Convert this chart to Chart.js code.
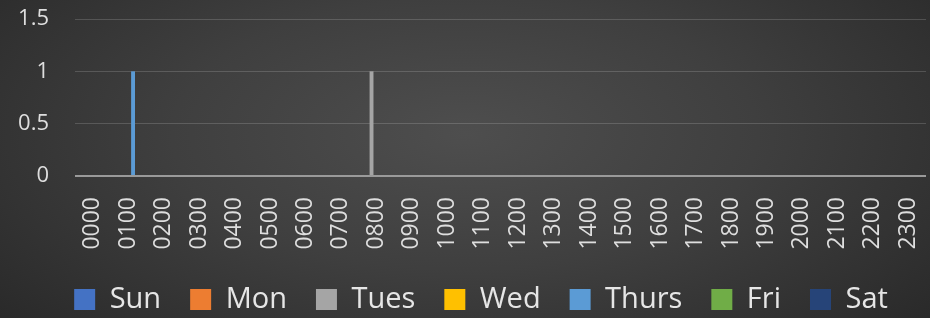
<!DOCTYPE html>
<html><head><meta charset="utf-8">
<script src="https://cdn.jsdelivr.net/npm/chart.js@4.4.0/dist/chart.umd.min.js"></script>
<style>
html,body{margin:0;padding:0;background:#2a2a2a;}
#wrap{position:relative;width:930px;height:318px;
background:radial-gradient(ellipse 70% 95% at 50% 42%, #4e4e4e 0%, #3f3f3f 45%, #272727 100%);}
</style></head><body><div id="wrap"><canvas id="c"></canvas></div>
<script>
const hours = ['0000','0100','0200','0300','0400','0500','0600','0700','0800','0900','1000','1100','1200','1300','1400','1500','1600','1700','1800','1900','2000','2100','2200','2300'];
const days = ['Sun','Mon','Tues','Wed','Thurs','Fri','Sat'];
const dayColors = ['#4472C4','#ED7D31','#A5A5A5','#FFC000','#5B9BD5','#70AD47','#264478'];
const sun   = [0,0,0,0,0,0,0,0,0,0,0,0,0,0,0,0,0,0,0,0,0,0,0,0];
const mon   = [0,0,0,0,0,0,0,0,0,0,0,0,0,0,0,0,0,0,0,0,0,0,0,0];
const tues  = [0,0,0,0,0,0,0,0,1,0,0,0,0,0,0,0,0,0,0,0,0,0,0,0];
const wed   = [0,0,0,0,0,0,0,0,0,0,0,0,0,0,0,0,0,0,0,0,0,0,0,0];
const thurs = [0,1,0,0,0,0,0,0,0,0,0,0,0,0,0,0,0,0,0,0,0,0,0,0];
const fri   = [0,0,0,0,0,0,0,0,0,0,0,0,0,0,0,0,0,0,0,0,0,0,0,0];
const sat   = [0,0,0,0,0,0,0,0,0,0,0,0,0,0,0,0,0,0,0,0,0,0,0,0];
const yMin = 0, yMax = 1.5, yStep = 0.5;

const series = [sun, mon, tues, wed, thurs, fri, sat];
const datasets = series.map((d, i) => ({
  label: days[i], data: d, backgroundColor: dayColors[i], borderWidth: 0,
  categoryPercentage: 0.96, barPercentage: 0.8
}));

const shiftLegend = {
  id: 'shiftLegend',
  afterLayout(chart) { if (chart.legend) chart.legend.left += 36; }
};

new Chart(document.getElementById('c'), {
  type: 'bar',
  data: { labels: hours, datasets },
  plugins: [shiftLegend],
  options: {
    responsive: true, maintainAspectRatio: false, animation: false,
    layout: { padding: { top: 19, left: 0, right: 4, bottom: 0 } },
    plugins: {
      tooltip: { enabled: false },
      legend: {
        position: 'bottom', maxHeight: 62,
        labels: { boxWidth: 21, boxHeight: 21, padding: 29, color: '#e6e6e6',
          font: { family: 'Open Sans', size: 29 } }
      }
    },
    scales: {
      x: {
        grid: { display: false, drawTicks: false },
        border: { display: false },
        ticks: { autoSkip: false, minRotation: 90, maxRotation: 90, padding: 21,
          color: '#dedede', font: { family: 'Open Sans', size: 23 } },
        afterFit: s => { s.height = 80; s.paddingLeft = 0; s.paddingRight = 0; }
      },
      y: {
        min: yMin, max: yMax,
        border: { display: false },
        grid: { drawTicks: false,
          color: c => c.tick && c.tick.value === 0 ? '#9a9a9a' : 'rgba(255,255,255,0.16)',
          lineWidth: c => c.tick && c.tick.value === 0 ? 2 : 1 },
        ticks: { stepSize: yStep, padding: 26, color: '#dedede',
          callback: v => String(v),
          font: { family: 'Open Sans', size: 22 } },
        afterFit: s => { s.width = 75; s.paddingTop = 0; s.paddingBottom = 0; }
      }
    }
  }
});
</script></body></html>
